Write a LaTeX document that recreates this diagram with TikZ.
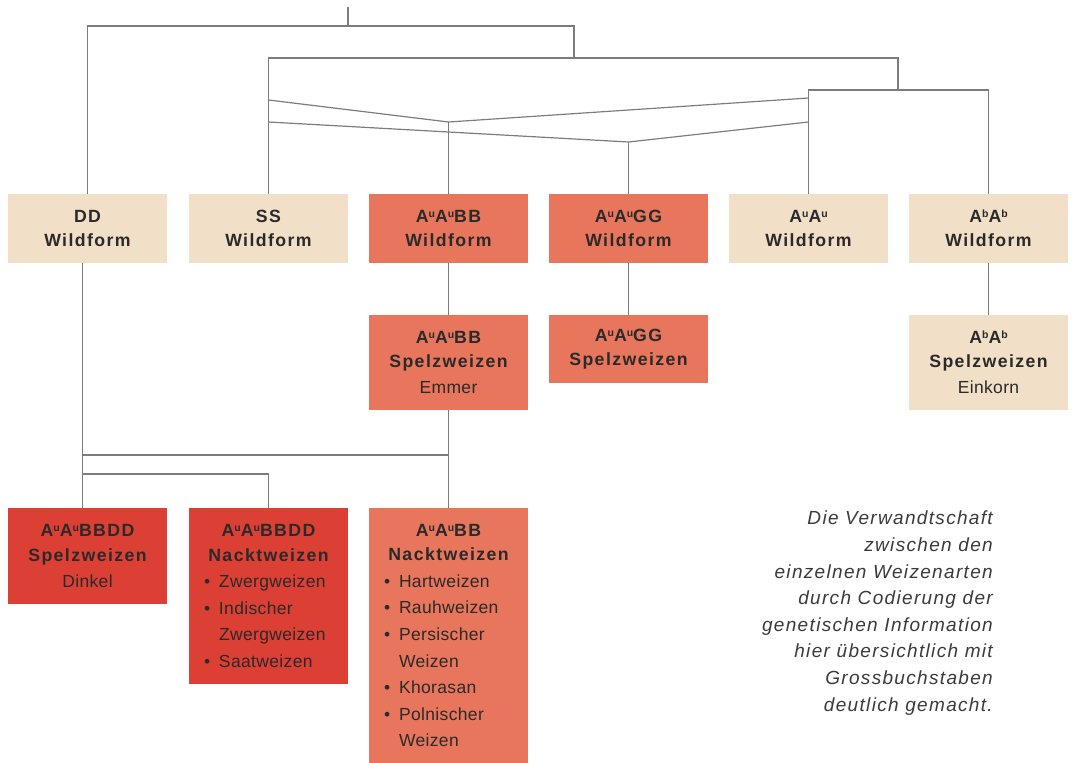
\documentclass[tikz,border=0pt]{standalone}
\usepackage{fontspec}
\setmainfont{Liberation Sans}
\newfontfamily\hb{Liberation Sans}[LetterSpace=8]
\newfontfamily\hr{Liberation Sans}[LetterSpace=2]
\newfontfamily\hi{Liberation Sans}[LetterSpace=7]
\setlength{\parindent}{0pt}
\definecolor{cbeige}{HTML}{F1E0C7}
\definecolor{ccoral}{HTML}{E8765C}
\definecolor{cred}{HTML}{DC4034}
\definecolor{ink}{HTML}{2A2A2A}
\definecolor{cline}{HTML}{7C7C7C}
\definecolor{note}{HTML}{3A3A3A}
\newcommand\sx[1]{\raisebox{5pt}{\fontsize{10.5}{10.5}\selectfont #1}}
\newcommand\bl{\makebox[15pt][l]{\textbullet}}
\newcommand\ii{\hspace*{15pt}}
\newcommand\hd[1]{{\centering\hb\bfseries\fontsize{17.7}{24.5}\selectfont #1\par}}
\newcommand\sub[1]{{\centering\hr\fontsize{17.5}{26}\selectfont #1\par}}
\newcommand\lst[1]{{\raggedright\hr\fontsize{17.5}{26.6}\selectfont #1\par}}
\tikzset{
  gbox/.style={inner xsep=15pt, inner ysep=0pt, text width=129pt,
    minimum height=#1, text=ink},
  beige/.style={fill=cbeige},
  coral/.style={fill=ccoral},
  redb/.style={fill=cred},
  link/.style={draw=cline, line width=1.2pt},
}
\begin{document}
\begin{tikzpicture}[x=1pt,y=-1pt]
\useasboundingbox (0,0) rectangle (1072,763);
% row 1
\node[gbox=69pt, beige] (dd)   at (87.5,228.5)  {\hd{DD\\Wildform}};
\node[gbox=69pt, beige] (ss)   at (268.5,228.5) {\hd{SS\\Wildform}};
\node[gbox=69pt, coral] (bbw)  at (448.5,228.5) {\hd{A\sx{u}A\sx{u}BB\\Wildform}};
\node[gbox=69pt, coral] (ggw)  at (628.5,228.5) {\hd{A\sx{u}A\sx{u}GG\\Wildform}};
\node[gbox=69pt, beige] (auw)  at (808.5,228.5) {\hd{A\sx{u}A\sx{u}\\Wildform}};
\node[gbox=69pt, beige] (abw)  at (988.5,228.5) {\hd{A\sx{b}A\sx{b}\\Wildform}};
% row 2
\node[gbox=95pt, coral] (emmer) at (448.5,362.5) {\hd{A\sx{u}A\sx{u}BB\\Spelzweizen}\sub{Emmer}};
\node[gbox=68pt, coral] (ggs)   at (628.5,349)   {\hd{A\sx{u}A\sx{u}GG\\Spelzweizen}};
\node[gbox=95pt, beige] (abs)   at (988.5,362.5) {\hd{A\sx{b}A\sx{b}\\Spelzweizen}\sub{Einkorn}};
% row 3
\node[gbox=96pt, redb] (dinkel) at (87.5,556) {\hd{A\sx{u}A\sx{u}BBDD\\Spelzweizen}\sub{Dinkel}};
\node[gbox=176pt, redb] (ndd) at (268.5,596) {\hd{A\sx{u}A\sx{u}BBDD\\Nacktweizen}\lst{\bl Zwergweizen\\\bl Indischer\\\ii Zwergweizen\\\bl Saatweizen}};
\node[gbox=255pt, coral] (nbb) at (448.5,635.5) {\hd{A\sx{u}A\sx{u}BB\\Nacktweizen}\lst{\bl Hartweizen\\\bl Rauhweizen\\\bl Persischer\\\ii Weizen\\\bl Khorasan\\\bl Polnischer\\\ii Weizen}};
% note
\node[anchor=north east, inner sep=0pt, align=right, text=note,
  font=\hi\itshape\fontsize{19}{26.6}\selectfont] (txt) at (993,511)
  {Die Verwandtschaft\\zwischen den\\einzelnen Weizenarten\\durch Codierung der\\genetischen Information\\hier übersichtlich mit\\Grossbuchstaben\\deutlich gemacht.};
% junctions
\coordinate (root) at (348,7);
\coordinate (j1) at (348,26);
\coordinate (j2) at (574,58);
\coordinate (j3) at (898,90);
\coordinate (s1) at (268.5,100);
\coordinate (a1) at (808.5,98);
\coordinate (s2) at (268.5,122);
\coordinate (a2) at (808.5,122);
\coordinate (m1) at (448.5,122);
\coordinate (m2) at (628.5,142);
\coordinate (k1) at (82.5,455);
\coordinate (k2) at (82.5,474);
% connectors
\draw[link] (root) -- (j1);
\draw[link] (dd.north) |- (j1) -| (j2);
\draw[link] (ss.north) |- (j2) -| (j3);
\draw[link] (auw.north) |- (j3) -| (abw.north);
\draw[link] (s1) -- (m1) -- (a1);
\draw[link] (s2) -- (m2) -- (a2);
\draw[link] (m1) -- (bbw.north);
\draw[link] (m2) -- (ggw.north);
\draw[link] (bbw) -- (emmer);
\draw[link] (ggw) -- (ggs);
\draw[link] (abw) -- (abs);
\draw[link] ([xshift=-5pt]dd.south) -- ([xshift=-5pt]dinkel.north);
\draw[link] (emmer.south) -- (nbb.north);
\draw[link] (k1) -- (k1 -| emmer.south);
\draw[link] (k2) -| (ndd.north);
\end{tikzpicture}
\end{document}
